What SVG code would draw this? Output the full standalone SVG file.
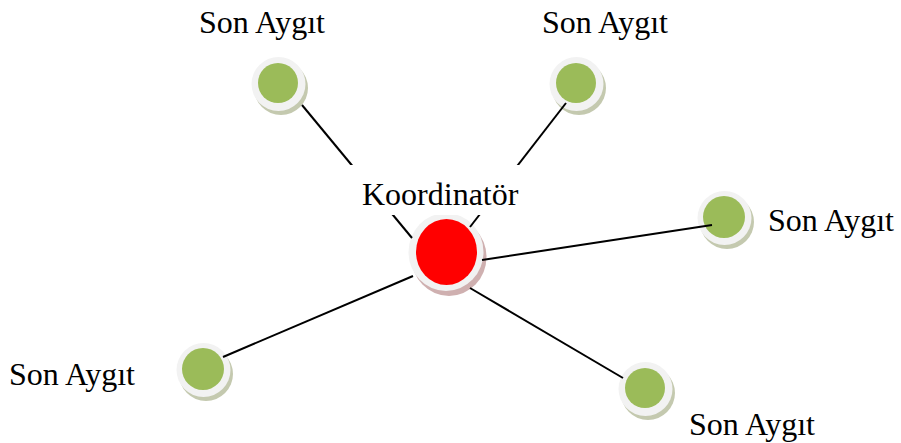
<svg xmlns="http://www.w3.org/2000/svg" width="901" height="443" viewBox="0 0 901 443">
<style>
.lbl{font-family:"Liberation Serif","Times New Roman",serif;font-size:32px;fill:#000}
.edge{stroke:#000;stroke-width:2;fill:none}
.ring{fill:#f2f2f2}
.shg{fill:#c4c9af}
.shr{fill:#cfb0b0}
.leaf{fill:#9bbb59}
.coord{fill:#ff0000}
</style>
<rect width="901" height="443" fill="#fff"/>
<g id="node-n1">
<circle class="shg" cx="281" cy="88" r="27"/>
<circle class="ring" cx="278.5" cy="84" r="27"/>
<circle class="leaf" cx="278" cy="83" r="20"/>
</g>
<g id="node-n2">
<circle class="shg" cx="579" cy="88" r="27"/>
<circle class="ring" cx="576.5" cy="84" r="27"/>
<circle class="leaf" cx="576" cy="83" r="20"/>
</g>
<g id="node-n3">
<circle class="shg" cx="727" cy="222" r="27"/>
<circle class="ring" cx="724.5" cy="218" r="27"/>
<circle class="leaf" cx="724" cy="217" r="21"/>
</g>
<g id="node-n4">
<circle class="shg" cx="206" cy="374" r="27"/>
<circle class="ring" cx="203.5" cy="370" r="27"/>
<circle class="leaf" cx="203" cy="369" r="21"/>
</g>
<g id="node-n5">
<circle class="shg" cx="648" cy="393" r="27"/>
<circle class="ring" cx="645.5" cy="389" r="27"/>
<circle class="leaf" cx="645" cy="388" r="20"/>
</g>
<g id="node-coord">
<ellipse class="shr" cx="449" cy="257" rx="37.5" ry="39"/>
<ellipse class="ring" cx="446" cy="252" rx="37.5" ry="39"/>
<ellipse class="coord" cx="446.5" cy="252" rx="30.5" ry="33"/>
</g>
<g id="connectors">
<line class="edge" x1="302" y1="105" x2="412" y2="238"/>
<line class="edge" x1="566" y1="103" x2="470" y2="227"/>
<line class="edge" x1="482" y1="260" x2="712" y2="225"/>
<line class="edge" x1="223" y1="357" x2="413" y2="276"/>
<line class="edge" x1="470" y1="288" x2="623" y2="378"/>
</g>
<g id="label-coord">
<rect x="345" y="165" width="180" height="50" fill="#fff"/>
<text class="lbl" x="362" y="205">Koordinatör</text>
</g>
<g id="labels">
<text class="lbl" x="199" y="33">Son Aygıt</text>
<text class="lbl" x="542" y="33">Son Aygıt</text>
<text class="lbl" x="768" y="231">Son Aygıt</text>
<text class="lbl" x="9" y="385">Son Aygıt</text>
<text class="lbl" x="689" y="435">Son Aygıt</text>
</g>
</svg>
